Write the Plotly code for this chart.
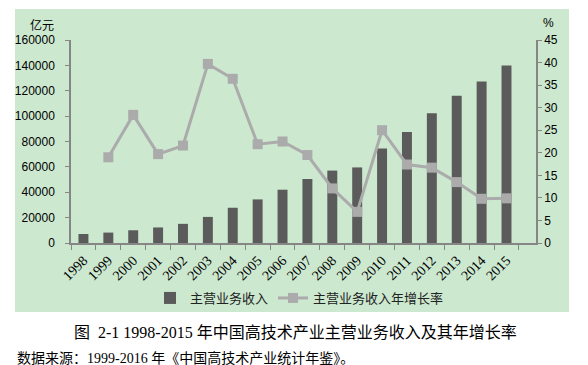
import plotly.graph_objects as go

years = ["1998", "1999", "2000", "2001", "2002", "2003", "2004", "2005", "2006",
         "2007", "2008", "2009", "2010", "2011", "2012", "2013", "2014", "2015"]
revenue = [7111, 8217, 10034, 12263, 15099, 20556, 27769, 34367, 41996,
           50461, 57087, 59567, 74483, 87527, 102284, 116049, 127368, 139969]
growth_years = years[1:]
growth = [19.0, 28.4, 19.7, 21.6, 39.7, 36.4, 21.9, 22.5, 19.5,
          12.1, 6.9, 25.0, 17.4, 16.7, 13.5, 9.8, 9.9]

left_ticks = [0, 20000, 40000, 60000, 80000, 100000, 120000, 140000, 160000]
right_ticks = [0, 5, 10, 15, 20, 25, 30, 35, 40, 45]

# page body has an 8px default margin; work in window pixels and offset
O = 8
W, H = 588 - O, 365 - O
L, T = 71 - O, 40 - O
R = W - (536 - O)
B = H - (243 - O)
pw, ph = W - L - R, H - T - B

def px(x):
    return (x - O - L) / pw

def py(y):
    return (H - B - (y - O)) / ph

axis_gray = "#868686"
sans = "Liberation Sans, Arial, sans-serif"
serif = "Liberation Serif, Times New Roman, serif"
cjk = "Noto Sans CJK SC, sans-serif"

fig = go.Figure()
fig.add_trace(go.Bar(
    x=years, y=revenue, name="主营业务收入",
    marker=dict(color="#5b5b5b", line=dict(width=0)),
    yaxis="y",
))
fig.add_trace(go.Scatter(
    x=growth_years, y=growth, name="主营业务收入年增长率",
    mode="lines+markers",
    line=dict(color="#ababab", width=3),
    marker=dict(symbol="square", size=10, color="#ababab"),
    yaxis="y2",
))

fig.update_layout(
    width=W, height=H,
    margin=dict(l=L, r=R, t=T, b=B, autoexpand=False),
    paper_bgcolor="white",
    plot_bgcolor="rgba(0,0,0,0)",
    bargap=0.6,
    showlegend=True,
    legend=dict(
        orientation="h", x=px(150), y=py(298), xanchor="left", yanchor="middle",
        font=dict(family=cjk, size=13, color="#222"),
        bgcolor="rgba(0,0,0,0)", itemwidth=30,
    ),
    xaxis=dict(
        type="category", categoryorder="array", categoryarray=years,
        showline=True, linecolor=axis_gray, linewidth=1.5,
        ticks="outside", tickson="boundaries", ticklen=5, tickcolor=axis_gray,
        tickangle=-45, tickfont=dict(family=serif, size=14, color="#000"),
        showgrid=False, zeroline=False, ticklabelstandoff=2,
    ),
    yaxis=dict(
        range=[0, 160000], tickvals=left_ticks, ticktext=[str(v) for v in left_ticks],
        showline=True, linecolor=axis_gray, linewidth=1.5,
        ticks="outside", ticklen=4, tickcolor=axis_gray,
        tickfont=dict(family=sans, size=12, color="#000"),
        showgrid=False, zeroline=False,
        ticklabelstandoff=8,
    ),
    yaxis2=dict(
        range=[0, 45], tickvals=right_ticks, ticktext=[str(v) for v in right_ticks],
        overlaying="y", side="right",
        showline=True, linecolor=axis_gray, linewidth=1.5,
        ticks="outside", ticklen=4, tickcolor=axis_gray,
        tickfont=dict(family=sans, size=12, color="#000"),
        showgrid=False, zeroline=False,
    ),
    shapes=[dict(
        type="rect", xref="paper", yref="paper",
        x0=px(15), x1=px(569), y0=py(312), y1=py(9),
        fillcolor="#cce8cf", line=dict(width=0), layer="below",
    )],
    annotations=[
        dict(text="亿元", xref="paper", yref="paper", x=px(42), y=py(24),
             showarrow=False, xanchor="center", yanchor="middle",
             font=dict(family=cjk, size=12, color="#000")),
        dict(text="%", xref="paper", yref="paper", x=px(548), y=py(23),
             showarrow=False, xanchor="center", yanchor="middle",
             font=dict(family=sans, size=12, color="#000")),
        dict(text="图  2-1 1998-2015 年中国高技术产业主营业务收入及其年增长率",
             xref="paper", yref="paper", x=px(72), y=py(332),
             showarrow=False, xanchor="left", yanchor="middle",
             font=dict(family=serif + ", " + cjk, size=16, color="#000")),
        dict(text="数据来源：1999-2016 年《中国高技术产业统计年鉴》。",
             xref="paper", yref="paper", x=px(15), y=py(358),
             showarrow=False, xanchor="left", yanchor="middle",
             font=dict(family=serif + ", " + cjk, size=14, color="#000")),
    ],
)

fig.write_html("out.html")
